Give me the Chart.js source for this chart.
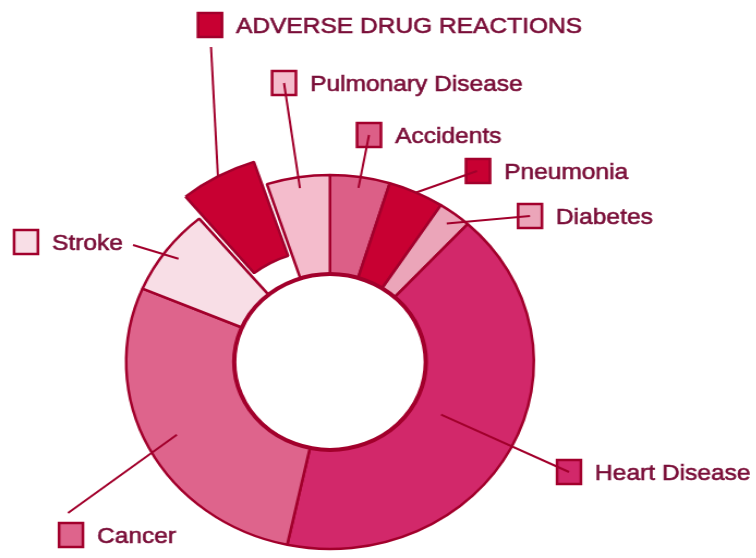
<!DOCTYPE html>
<html>
<head>
<meta charset="utf-8">
<script src="https://cdn.jsdelivr.net/npm/chart.js@4.4.1/dist/chart.umd.min.js"></script>
<style>
  html, body { margin: 0; padding: 0; background: #fff; overflow: hidden; }
  /* the source picture is a little wider than tall, so the whole chart is stretched */
  #wrap { width: 694px; height: 558px; transform: scaleX(1.09); transform-origin: 0 0; }
</style>
</head>
<body>
<div id="wrap"><canvas id="deathsChart"></canvas></div>
<script>
// clockwise from 12 o'clock (thousands of deaths)
const causes = ['Accidents', 'Pneumonia', 'Diabetes', 'Heart Disease', 'Cancer', 'Stroke', 'ADVERSE DRUG REACTIONS', 'Pulmonary Disease'];
const deaths = [88, 82, 49, 772, 521, 139, 113, 93];
const explode = [0, 0, 0, 0, 0, 0, 62, 0];
const sliceColors = ['#dc5f87', '#c80032', '#eba5b9', '#d2286a', '#de648c', '#f8dee6', '#c80032', '#f4bccc'];

const SX = 1.09;
const BOX = 26;
const edgeColor = '#a2002c';
const textColor = '#7a0e38';

// label box top-left, where the leader starts, how deep into the ring it ends
const callouts = [
    { box: [356, 122], from: [369, 135], depth: 0.89 },
    { box: [465, 158], from: [477, 171], depth: 1.0 },
    { box: [517, 203], from: [530, 216], depth: 0.88 },
    { box: [556, 459], from: [569, 472], depth: 0.27 },
    { box: [58, 522], from: [68, 513], depth: 0.71 },
    { box: [13, 229], from: [133, 245], depth: 0.86 },
    { box: [197, 12], from: [211, 47], depth: 1.0 },
    { box: [271, 70], from: [284, 83], depth: 0.89 }
];

const calloutPlugin = {
    id: 'callouts',
    afterDatasetsDraw(chart) {
        const ctx = chart.ctx;
        const meta = chart.getDatasetMeta(0);
        const a0 = meta.data[0];

        ctx.save();
        ctx.strokeStyle = edgeColor;
        ctx.beginPath();
        ctx.arc(a0.x, a0.y, a0.innerRadius, 0, Math.PI * 2);
        ctx.lineWidth = 4;
        ctx.stroke();

        ctx.font = '22.5px "Liberation Sans", Arial, sans-serif';
        ctx.textBaseline = 'alphabetic';

        meta.data.forEach((arc, i) => {
            const c = callouts[i];
            const mid = (arc.startAngle + arc.endAngle) / 2;
            const circ = arc.endAngle - arc.startAngle;
            const off = explode[i] / 4;
            const push = off * (2 - Math.sin(Math.min(Math.PI, circ)));
            const r = arc.innerRadius + c.depth * (arc.outerRadius - arc.innerRadius) + push;
            const ax = arc.x + Math.cos(mid) * r;
            const ay = arc.y + Math.sin(mid) * r;

            const bx = c.box[0] / SX, by = c.box[1], bw = BOX / SX;
            ctx.fillStyle = sliceColors[i];
            ctx.fillRect(bx, by, bw, BOX);

            ctx.strokeStyle = edgeColor;
            ctx.lineWidth = 2;
            ctx.beginPath();
            ctx.moveTo(c.from[0] / SX, c.from[1]);
            ctx.lineTo(ax, ay);
            ctx.stroke();

            ctx.lineWidth = 2.5;
            ctx.strokeRect(bx + 1, by + 1, bw - 2, BOX - 2);

            // a hair of stroke to match the heavier print of the original
            const tx = bx + bw + 13 / SX, ty = by + BOX / 2 + 8;
            ctx.fillStyle = textColor;
            ctx.strokeStyle = textColor;
            ctx.lineWidth = 0.6;
            ctx.fillText(causes[i], tx, ty);
            ctx.strokeText(causes[i], tx, ty);
        });
        ctx.restore();
    }
};

new Chart(document.getElementById('deathsChart'), {
    type: 'doughnut',
    data: {
        labels: causes,
        datasets: [{
            data: deaths,
            backgroundColor: sliceColors,
            borderColor: edgeColor,
            borderWidth: 2.5,
            offset: explode,
            hoverOffset: 0
        }]
    },
    options: {
        responsive: true,
        maintainAspectRatio: false,
        animation: false,
        cutout: '47%',
        radius: 187,
        layout: { padding: { left: 0, right: 88.5, top: 166, bottom: 0 } },
        plugins: {
            legend: { display: false },
            tooltip: { enabled: false }
        }
    },
    plugins: [calloutPlugin]
});
</script>
</body>
</html>
